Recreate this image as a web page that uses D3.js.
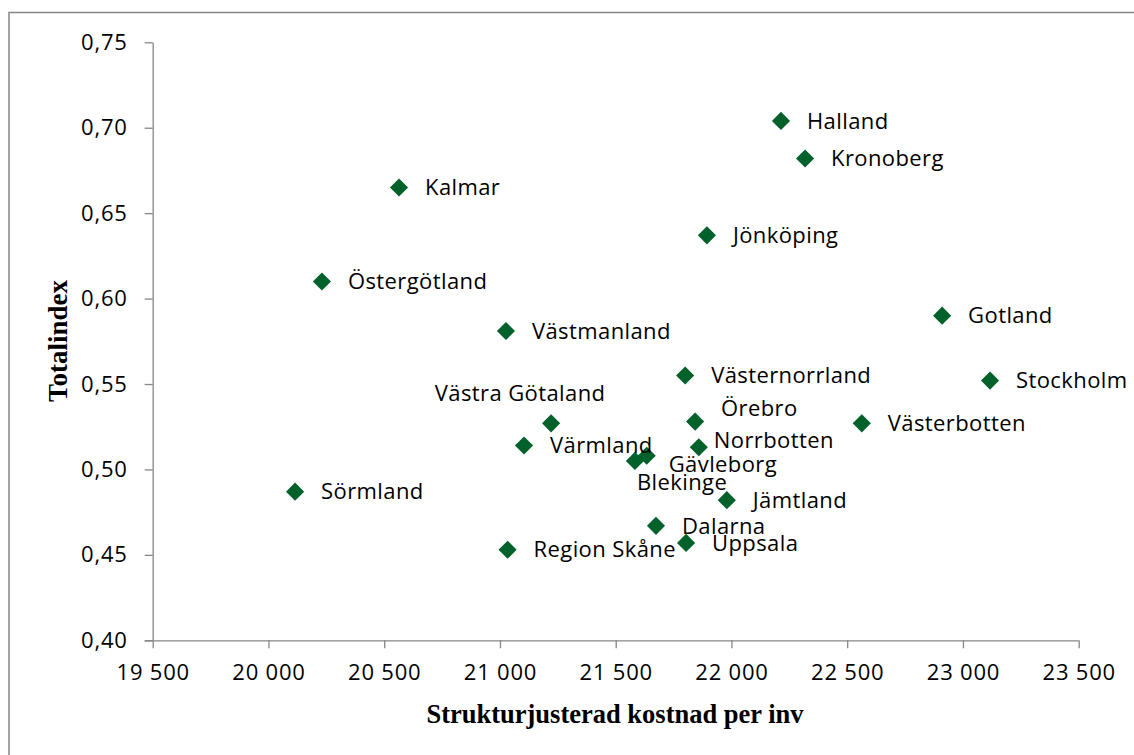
<!DOCTYPE html>
<html>
<head>
<meta charset="utf-8">
<script src="https://cdn.jsdelivr.net/npm/d3@7"></script>
<style>
  body { margin: 0; background: #fff; }
  svg { display: block; }
</style>
</head>
<body>
<script>
// data
const regions = [
  "Halland", "Kronoberg", "Kalmar", "Jönköping", "Östergötland", "Gotland",
  "Västmanland", "Västernorrland", "Stockholm", "Västra Götaland", "Örebro",
  "Västerbotten", "Norrbotten", "Värmland", "Blekinge", "Gävleborg",
  "Jämtland", "Dalarna", "Uppsala", "Region Skåne", "Sörmland"
];
const kostnad = [
  22214, 22318, 20564, 21894, 20231, 22910,
  21026, 21800, 23117, 21221, 21843,
  22563, 21859, 21104, 21583, 21634,
  21980, 21674, 21804, 21033, 20115
];
const totalindex = [
  0.704, 0.682, 0.665, 0.637, 0.610, 0.590,
  0.581, 0.555, 0.552, 0.527, 0.528,
  0.527, 0.513, 0.514, 0.505, 0.508,
  0.482, 0.467, 0.457, 0.453, 0.487
];
const xTicks = [19500, 20000, 20500, 21000, 21500, 22000, 22500, 23000, 23500];
const yTicks = [0.40, 0.45, 0.50, 0.55, 0.60, 0.65, 0.70, 0.75];

// labels that were moved away from the default right-hand spot
const labelShift = {
  "Västra Götaland": { dx: -31, dy: -30, anchor: "middle" },
  "Örebro": { dx: 26, dy: -13 },
  "Norrbotten": { dx: 15, dy: -7 },
  "Gävleborg": { dx: 22, dy: 9 },
  "Blekinge": { dx: 2, dy: 21 }
};

const width = 1134, height = 755;
const margin = { left: 152.7, right: 1134 - 1078.7, top: 42.3, bottom: 755 - 640.3 };

const svg = d3.select("body").append("svg")
  .attr("width", width).attr("height", height);

// chart border
svg.append("rect")
  .attr("x", 9).attr("y", 12.5)
  .attr("width", width + 20).attr("height", height + 20)
  .attr("fill", "none").attr("stroke", "#868686").attr("stroke-width", 1.5);

const x = d3.scaleLinear().domain([19500, 23500]).range([margin.left, width - margin.right]);
const y = d3.scaleLinear().domain([0.40, 0.75]).range([height - margin.bottom, margin.top]);

const tickFont = "'Open Sans', sans-serif";
const serif = "'Liberation Serif', 'Times New Roman', serif";

// x axis
const xAxis = svg.append("g")
  .attr("transform", `translate(0,${y(0.40)})`)
  .call(d3.axisBottom(x).tickValues(xTicks).tickSizeInner(8).tickSizeOuter(0)
    .tickFormat(d => d3.format(",")(d).replace(",", " ")));
xAxis.select(".domain").attr("stroke", "#868686").attr("stroke-width", 1.3)
  .attr("d", `M${x(19500) - 8},0.5H${x(23500)}`);
xAxis.selectAll(".tick line").attr("stroke", "#868686").attr("stroke-width", 1.3);
xAxis.selectAll(".tick text")
  .attr("font-family", tickFont).attr("font-size", 22).attr("fill", "#000")
  .attr("letter-spacing", 0.8)
  .attr("y", 24);

// y axis
const yAxis = svg.append("g")
  .attr("transform", `translate(${x(19500)},0)`)
  .call(d3.axisLeft(y).tickValues(yTicks).tickSizeInner(8).tickSizeOuter(0)
    .tickFormat(d => d3.format(".2f")(d).replace(".", ",")));
yAxis.select(".domain").attr("stroke", "#868686").attr("stroke-width", 1.3);
yAxis.selectAll(".tick line").attr("stroke", "#868686").attr("stroke-width", 1.3);
yAxis.selectAll(".tick text")
  .attr("font-family", tickFont).attr("font-size", 22).attr("fill", "#000")
  .attr("letter-spacing", 0.8)
  .attr("x", -25);

// points
const points = regions.map((r, i) => ({ name: r, x: kostnad[i], y: totalindex[i] }));

svg.append("g").selectAll("path")
  .data(points)
  .enter()
  .append("path")
  .attr("d", d3.symbol(d3.symbolDiamond2, 210))
  .attr("transform", d => `translate(${x(d.x)},${y(d.y)})`)
  .attr("fill", "#00622a");

// point labels
svg.append("g").selectAll("text")
  .data(points)
  .enter()
  .append("text")
  .attr("x", d => x(d.x) + (labelShift[d.name] ? labelShift[d.name].dx : 26))
  .attr("y", d => y(d.y) + (labelShift[d.name] ? labelShift[d.name].dy : 0))
  .attr("dy", "0.35em")
  .attr("text-anchor", d => (labelShift[d.name] && labelShift[d.name].anchor) || "start")
  .attr("font-family", tickFont)
  .attr("font-size", 22)
  .attr("letter-spacing", 0.4)
  .attr("fill", "#000")
  .text(d => d.name);

// axis titles
svg.append("text")
  .attr("x", 615).attr("y", 714).attr("dy", "0.35em")
  .attr("text-anchor", "middle")
  .attr("font-family", serif)
  .attr("font-weight", "bold").attr("font-size", 26.5)
  .text("Strukturjusterad kostnad per inv");

svg.append("text")
  .attr("transform", "translate(58,341) rotate(-90)")
  .attr("dy", "0.35em")
  .attr("text-anchor", "middle")
  .attr("font-family", serif)
  .attr("font-weight", "bold").attr("font-size", 27)
  .text("Totalindex");
</script>
</body>
</html>
